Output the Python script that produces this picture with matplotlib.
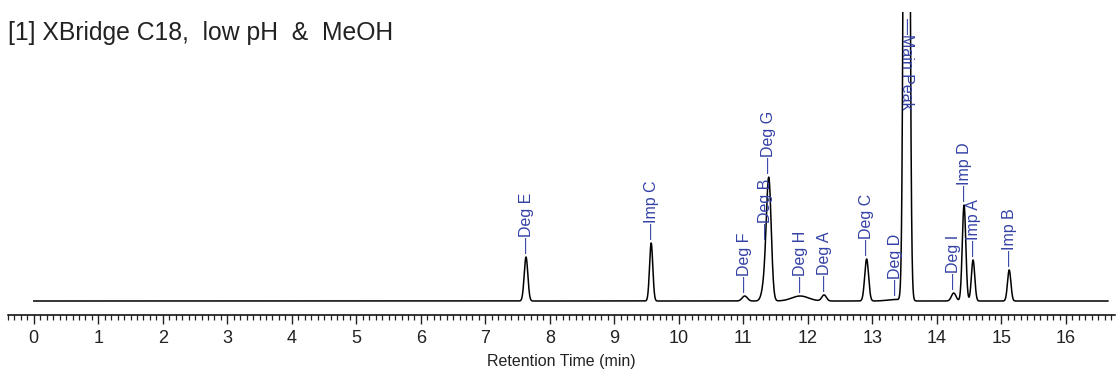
import numpy as np
import matplotlib.pyplot as plt
from matplotlib.ticker import MultipleLocator

plt.rcParams['font.family'] = ['Liberation Sans', 'DejaVu Sans']

# ---- peak table (retention time in min, height, width sigma in min) ----
peak_names = ['Deg E', 'Imp C', 'Deg F', 'Deg B', 'Deg G', 'Deg H', 'Deg A',
              'Deg C', 'Deg D', 'Main Peak', 'Deg I', 'Imp D', 'Imp A', 'Imp B']
peak_times = [7.63, 9.57, 11.02, 11.34, 11.395, 11.88, 12.25,
              12.91, 13.35, 13.53, 14.26, 14.42, 14.56, 15.12]
peak_heights = [44, 58, 5, 20, 114, 5, 6,
                42, 1.5, 1600, 8, 96, 41, 31]
peak_sigmas = [0.028, 0.025, 0.04, 0.045, 0.037, 0.13, 0.035,
               0.03, 0.12, 0.032, 0.035, 0.027, 0.026, 0.026]

t_start, t_end = 0.0, 16.65
title = '[1] XBridge C18,  low pH  &  MeOH'
label_color = '#3442a6'


def signal(t):
    y = np.zeros_like(t, dtype=float)
    for tr, h, s in zip(peak_times, peak_heights, peak_sigmas):
        y += h * np.exp(-0.5 * ((t - tr) / s) ** 2)
    return y


t = np.linspace(t_start, t_end, 8000)
y = signal(t)

fig = plt.figure(figsize=(11.19, 3.74), dpi=100)
ax = fig.add_axes([8 / 1119, 59 / 374, 1107 / 1119, 303 / 374])
ax.plot(t, y, color='black', lw=1.1)
ax.set_xlim(-0.4, 16.76)
ax.set_ylim(-14, 289)

for sp in ['top', 'left', 'right']:
    ax.spines[sp].set_visible(False)
ax.spines['bottom'].set_linewidth(1.1)
ax.set_yticks([])
ax.xaxis.set_major_locator(MultipleLocator(1))
ax.xaxis.set_minor_locator(MultipleLocator(0.1))
ax.tick_params(axis='x', which='major', length=6.5, width=1.0, labelsize=13,
               pad=4, colors='#222222')
ax.tick_params(axis='x', which='minor', length=3.6, width=0.9, colors='#222222')
ax.set_xlabel('Retention Time (min)', fontsize=11.5, color='#222222', labelpad=5)

# peak labels
for name, tr in zip(peak_names, peak_times):
    if name == 'Main Peak':
        ax.text(tr, 0.98, '\u2014' + name, rotation=270, ha='center', va='top',
                fontsize=11.5, color=label_color,
                transform=ax.get_xaxis_transform())
        continue
    ys = signal(np.array([tr]))[0]
    ax.annotate('\u2014' + name, xy=(tr, ys), xytext=(0, 3),
                textcoords='offset points', rotation=90, ha='center',
                va='bottom', fontsize=11.5, color=label_color)

fig.text(8 / 1119, 1 - 33 / 374, title, fontsize=17.8, va='center', ha='left',
         color='#222222')

fig.savefig('out.png', dpi=100)
